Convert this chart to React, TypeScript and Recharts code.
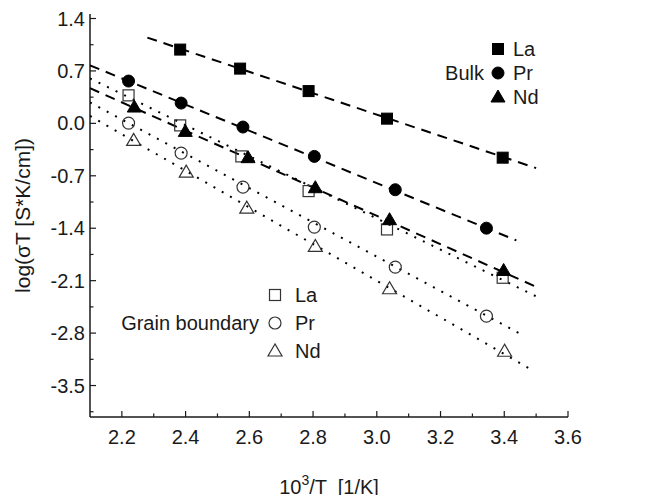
import { ScatterChart, Scatter, XAxis, YAxis } from 'recharts';

const FONT = '"Liberation Sans", Arial, sans-serif';
const INK = '#1a1a1a';

const X_TICKS = [2.2, 2.3, 2.4, 2.5, 2.6, 2.7, 2.8, 2.9, 3.0, 3.1, 3.2, 3.3, 3.4, 3.5, 3.6];
const Y_TICKS = [1.4, 1.05, 0.7, 0.35, 0, -0.35, -0.7, -1.05, -1.4, -1.75, -2.1, -2.45, -2.8, -3.15, -3.5, -3.85];

// bulk (filled symbols)
const bulkLa = [
  { x: 2.383, y: 0.985 },
  { x: 2.571, y: 0.731 },
  { x: 2.786, y: 0.431 },
  { x: 3.032, y: 0.063 },
  { x: 3.395, y: -0.458 },
];
const bulkPr = [
  { x: 2.221, y: 0.565 },
  { x: 2.386, y: 0.271 },
  { x: 2.58, y: -0.049 },
  { x: 2.804, y: -0.441 },
  { x: 3.058, y: -0.886 },
  { x: 3.344, y: -1.399 },
];
const bulkNd = [
  { x: 2.239, y: 0.218 },
  { x: 2.399, y: -0.107 },
  { x: 2.596, y: -0.458 },
  { x: 2.807, y: -0.859 },
  { x: 3.04, y: -1.286 },
  { x: 3.398, y: -1.964 },
];

// grain boundary (open symbols)
const gbLa = [
  { x: 2.221, y: 0.374 },
  { x: 2.383, y: -0.027 },
  { x: 2.575, y: -0.441 },
  { x: 2.786, y: -0.904 },
  { x: 3.032, y: -1.416 },
  { x: 3.395, y: -2.061 },
];
const gbPr = [
  { x: 2.221, y: 0.004 },
  { x: 2.386, y: -0.397 },
  { x: 2.58, y: -0.851 },
  { x: 2.804, y: -1.385 },
  { x: 3.058, y: -1.92 },
  { x: 3.344, y: -2.574 },
];
const gbNd = [
  { x: 2.237, y: -0.227 },
  { x: 2.402, y: -0.651 },
  { x: 2.592, y: -1.131 },
  { x: 2.807, y: -1.643 },
  { x: 3.04, y: -2.208 },
  { x: 3.401, y: -3.042 },
];

// linear fits, end points
const fitBulkLa = [{ x: 2.28, y: 1.145 }, { x: 3.5, y: -0.597 }];
const fitBulkPr = [{ x: 2.1, y: 0.775 }, { x: 3.438, y: -1.563 }];
const fitBulkNd = [{ x: 2.1, y: 0.47 }, { x: 3.51, y: -2.2 }];
const fitGbLa = [{ x: 2.1, y: 0.6 }, { x: 3.51, y: -2.33 }];
const fitGbPr = [{ x: 2.1, y: 0.28 }, { x: 3.45, y: -2.81 }];
const fitGbNd = [{ x: 2.1, y: 0.1 }, { x: 3.49, y: -3.3 }];

type Kind = 'square' | 'circle' | 'triangle';

function Marker({ cx, cy, kind, filled }: { cx: number; cy: number; kind: Kind; filled: boolean }) {
  const fill = filled ? '#000' : 'none';
  const stroke = filled ? '#000' : '#333';
  const sw = filled ? 1 : 1.2;
  if (kind === 'square') {
    return <rect x={cx - 5.5} y={cy - 5.5} width={11} height={11} fill={fill} stroke={stroke} strokeWidth={sw} />;
  }
  if (kind === 'circle') {
    return <circle cx={cx} cy={cy} r={6} fill={fill} stroke={stroke} strokeWidth={sw} />;
  }
  return (
    <polygon
      points={`${cx},${cy - 7} ${cx - 7},${cy + 5} ${cx + 7},${cy + 5}`}
      fill={fill}
      stroke={stroke}
      strokeWidth={sw}
    />
  );
}

const shapeOf = (kind: Kind, filled: boolean) => (p: any) => <Marker cx={p.cx} cy={p.cy} kind={kind} filled={filled} />;
const noShape = () => <g />;

const isMajorX = (v: number) => Math.round(v * 10) % 2 === 0;
const isMajorY = (v: number) => Math.round(v / 0.35) % 2 === 0;

function BottomTick({ x, y, payload }: any) {
  const major = isMajorX(payload.value);
  return (
    <g>
      <line x1={x} x2={x} y1={y} y2={y - (major ? 6 : 3.5)} stroke={INK} strokeWidth={1.2} />
      {major && (
        <text x={x} y={y + 27} textAnchor="middle" fontSize={20} fontFamily={FONT} fill={INK}>
          {payload.value.toFixed(1)}
        </text>
      )}
    </g>
  );
}

function TopTick({ x, y, payload }: any) {
  const major = isMajorX(payload.value);
  return <line x1={x} x2={x} y1={y} y2={y + (major ? 6 : 3.5)} stroke={INK} strokeWidth={1.2} />;
}

function LeftTick({ x, y, payload }: any) {
  const major = isMajorY(payload.value);
  return (
    <g>
      <line x1={x} x2={x + (major ? 6 : 3.5)} y1={y} y2={y} stroke={INK} strokeWidth={1.2} />
      {major && (
        <text x={x - 5} y={y + 7} textAnchor="end" fontSize={20} fontFamily={FONT} fill={INK}>
          {payload.value.toFixed(1)}
        </text>
      )}
    </g>
  );
}

function RightTick({ x, y, payload }: any) {
  const major = isMajorY(payload.value);
  return <line x1={x} x2={x - (major ? 6 : 3.5)} y1={y} y2={y} stroke={INK} strokeWidth={1.2} />;
}

const frame = { stroke: INK, strokeWidth: 1.5 };

function Legends() {
  const txt = { fontSize: 20, fontFamily: FONT, fill: INK };
  return (
    <svg width={652} height={487} style={{ position: 'absolute', left: 0, top: 0, pointerEvents: 'none' }}>
      <Marker cx={490} cy={41} kind="square" filled />
      <Marker cx={490} cy={65} kind="circle" filled />
      <Marker cx={490} cy={89} kind="triangle" filled />
      <text x={505} y={48} {...txt}>La</text>
      <text x={505} y={72} {...txt}>Pr</text>
      <text x={505} y={96} {...txt}>Nd</text>
      <text x={476} y={72} textAnchor="end" {...txt}>Bulk</text>

      <Marker cx={267} cy={287} kind="square" filled={false} />
      <Marker cx={267} cy={315} kind="circle" filled={false} />
      <Marker cx={267} cy={343} kind="triangle" filled={false} />
      <text x={287} y={294} {...txt}>La</text>
      <text x={287} y={322} {...txt}>Pr</text>
      <text x={287} y={350} {...txt}>Nd</text>
      <text x={251} y={322} textAnchor="end" {...txt}>Grain boundary</text>
    </svg>
  );
}

export default function App() {
  const dashed = { stroke: '#000', strokeWidth: 2, strokeDasharray: '10 7' };
  const dotted = { stroke: '#000', strokeWidth: 2, strokeDasharray: '2 7.5' };
  return (
    <div style={{ position: 'relative', width: 652, height: 487 }}>
      <ScatterChart width={652} height={495} margin={{ top: 6, right: 92, bottom: 0, left: 0 }}>
        <XAxis
          type="number"
          dataKey="x"
          domain={[2.1, 3.6]}
          allowDataOverflow
          ticks={X_TICKS}
          interval={0}
          tickSize={0}
          tickMargin={0}
          tickLine={false}
          tick={<BottomTick />}
          axisLine={frame}
          height={86}
          label={{
            position: 'insideBottom',
            content: ({ viewBox }: any) => (
              <text
                x={viewBox.x + viewBox.width / 2}
                y={486}
                textAnchor="middle"
                fontSize={20}
                fontFamily={FONT}
                fill={INK}
                style={{ whiteSpace: 'pre' }}
              >
                <tspan>10</tspan>
                <tspan dy={-9} fontSize={14}>3</tspan>
                <tspan dy={9}>{'/T  [1/K]'}</tspan>
              </text>
            ),
          }}
        />
        <XAxis
          xAxisId="top"
          orientation="top"
          type="number"
          dataKey="x"
          domain={[2.1, 3.6]}
          allowDataOverflow
          ticks={X_TICKS}
          interval={0}
          tickSize={0}
          tickMargin={0}
          tickLine={false}
          tick={<TopTick />}
          axisLine={frame}
          height={0}
        />
        <YAxis
          type="number"
          dataKey="y"
          domain={[-3.92, 1.46]}
          allowDataOverflow
          ticks={Y_TICKS}
          interval={0}
          tickSize={0}
          tickMargin={0}
          tickLine={false}
          tick={<LeftTick />}
          axisLine={frame}
          width={82}
          label={{
            content: () => (
              <text
                x={0}
                y={0}
                transform="translate(21.5 207.5) rotate(-90)"
                textAnchor="middle"
                fontSize={21}
                fontFamily={FONT}
                fill={INK}
              >
                log(σT [S*K/cm])
              </text>
            ),
          }}
        />
        <YAxis
          yAxisId="right"
          orientation="right"
          type="number"
          dataKey="y"
          domain={[-3.92, 1.46]}
          allowDataOverflow
          ticks={Y_TICKS}
          interval={0}
          tickSize={0}
          tickMargin={0}
          tickLine={false}
          tick={<RightTick />}
          axisLine={frame}
          width={0}
        />

        <Scatter data={fitBulkLa} line={dashed} shape={noShape} isAnimationActive={false} />
        <Scatter data={fitBulkPr} line={dashed} shape={noShape} isAnimationActive={false} />
        <Scatter data={fitBulkNd} line={dashed} shape={noShape} isAnimationActive={false} />
        <Scatter data={fitGbLa} line={dotted} shape={noShape} isAnimationActive={false} />
        <Scatter data={fitGbPr} line={dotted} shape={noShape} isAnimationActive={false} />
        <Scatter data={fitGbNd} line={dotted} shape={noShape} isAnimationActive={false} />

        <Scatter data={gbLa} shape={shapeOf('square', false)} isAnimationActive={false} />
        <Scatter data={gbPr} shape={shapeOf('circle', false)} isAnimationActive={false} />
        <Scatter data={gbNd} shape={shapeOf('triangle', false)} isAnimationActive={false} />
        <Scatter data={bulkLa} shape={shapeOf('square', true)} isAnimationActive={false} />
        <Scatter data={bulkPr} shape={shapeOf('circle', true)} isAnimationActive={false} />
        <Scatter data={bulkNd} shape={shapeOf('triangle', true)} isAnimationActive={false} />
      </ScatterChart>
      <Legends />
    </div>
  );
}
